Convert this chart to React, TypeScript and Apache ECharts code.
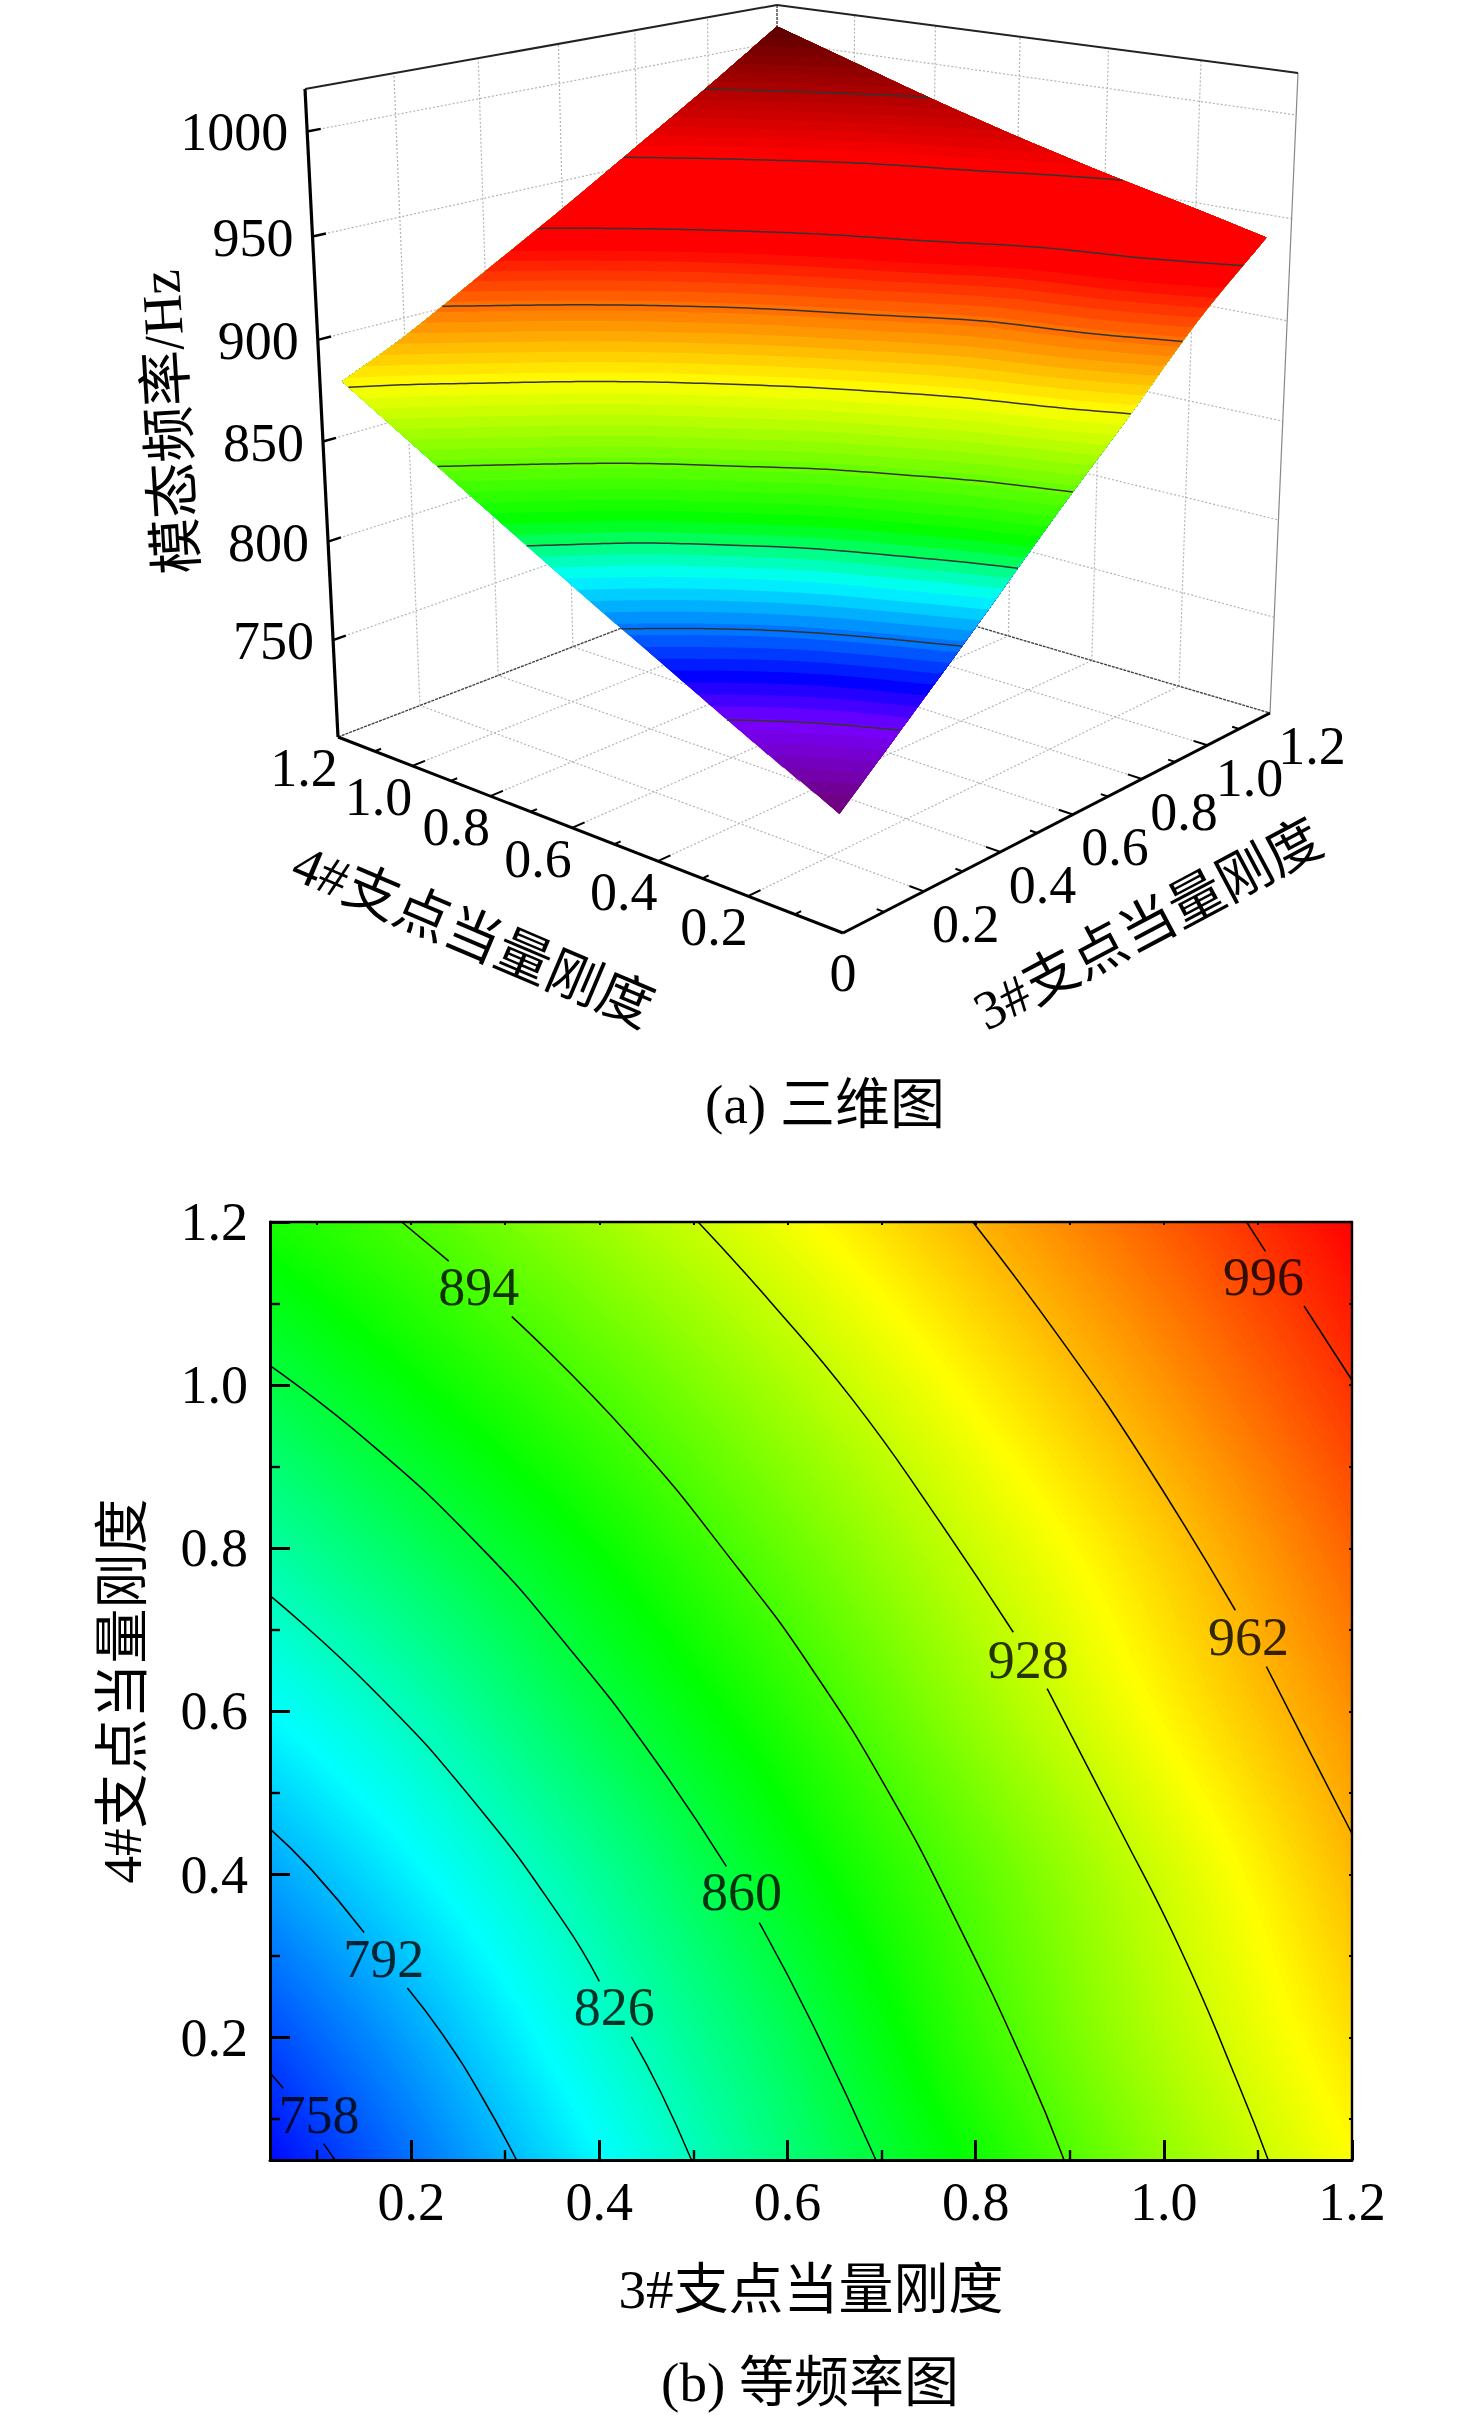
import React, { useEffect, useRef } from "react";
import * as echarts from "echarts";

// ---------- data ----------
const x3Nodes = [0.05, 0.2, 0.4, 0.6, 0.8, 1.0, 1.2];
const x4Nodes = [0.05, 0.2, 0.4, 0.6, 0.8, 1.0, 1.2];
const freqAtX4_005 = [747, 773, 808, 844, 878, 913, 942];
const freqAtX4_02 = [763, 786, 820, 853, 889, 922, 950];
const freqAtX4_04 = [786, 806, 836, 869, 899, 930, 960];
const freqAtX4_06 = [809, 827, 857, 885, 915, 944, 971];
const freqAtX4_08 = [833, 851, 876, 902, 929, 955, 983];
const freqAtX4_10 = [857, 874, 896, 920, 945, 970, 996];
const freqAtX4_12 = [881, 895, 917, 939, 962, 985, 1009];
const freqRows = [freqAtX4_005, freqAtX4_02, freqAtX4_04, freqAtX4_06, freqAtX4_08, freqAtX4_10, freqAtX4_12];

// contour lines of the lower plot, [3# stiffness, 4# stiffness], split where the label sits
const c758a = [[0.05, 0.157], [0.064, 0.138]];
const c758b = [[0.107, 0.07], [0.119, 0.05]];
const c792a = [[0.05, 0.456], [0.094, 0.406], [0.15, 0.329]];
const c792b = [[0.196, 0.261], [0.234, 0.203], [0.274, 0.13], [0.312, 0.05]];
const c826a = [[0.05, 0.742], [0.16, 0.626], [0.27, 0.485], [0.362, 0.342], [0.4, 0.269]];
const c826b = [[0.434, 0.201], [0.465, 0.134], [0.498, 0.05]];
const c860a = [[0.05, 1.024], [0.153, 0.932], [0.27, 0.806], [0.369, 0.676], [0.454, 0.549], [0.535, 0.41]];
const c860b = [[0.57, 0.341], [0.626, 0.218], [0.694, 0.05]];
const c894a = [[0.19, 1.2], [0.24, 1.152]];
const c894b = [[0.307, 1.084], [0.432, 0.938], [0.549, 0.773], [0.626, 0.652], [0.707, 0.502], [0.78, 0.342], [0.854, 0.162], [0.894, 0.05]];
const c928a = [[0.505, 1.2], [0.582, 1.102], [0.67, 0.981], [0.755, 0.844], [0.84, 0.697]];
const c928b = [[0.876, 0.628], [0.949, 0.465], [1.019, 0.305], [1.081, 0.138], [1.111, 0.05]];
const c962a = [[0.797, 1.2], [0.89, 1.057], [0.975, 0.914], [1.076, 0.724]];
const c962b = [[1.109, 0.655], [1.155, 0.551], [1.2, 0.45]];
const c996a = [[1.088, 1.2], [1.108, 1.164]];
const c996b = [[1.149, 1.097], [1.2, 1.006]];
const contourSegments = [c758a, c758b, c792a, c792b, c826a, c826b, c860a, c860b, c894a, c894b, c928a, c928b, c962a, c962b, c996a, c996b];
const contourLabels = [
  [0.102, 0.105, 758], [0.171, 0.297, 792], [0.416, 0.237, 826], [0.551, 0.378, 860],
  [0.272, 1.12, 894], [0.856, 0.663, 928], [1.09, 0.691, 962], [1.106, 1.133, 996],
];

// tick values
const planMajorTicks = [0.2, 0.4, 0.6, 0.8, 1.0, 1.2];
const planMinorTicks = [0.1, 0.3, 0.5, 0.7, 0.9, 1.1];
const planEdgeTicks = [0.1, 0.2, 0.3, 0.4, 0.5, 0.6, 0.7, 0.8, 0.9, 1.0, 1.1];
const freqTicks = [750, 800, 850, 900, 950, 1000];
const surfaceContourLevels = [773, 800, 826, 852, 879, 905, 932, 958, 984];

// colour ramps: [frequency, hex]
const ramp3d: [number, string][] = [[750, "#700080"], [773, "#7800ff"], [786, "#0000ff"], [816, "#00ffff"], [834, "#00ff00"], [879, "#ffff00"], [925, "#ff0000"], [960, "#ff0000"], [1009, "#5a0000"]];
const ramp2d: [number, string][] = [[745, "#0000ff"], [809, "#00ffff"], [875, "#00ff00"], [942, "#ffff00"], [1009, "#ff0000"]];

// ---------- layout ----------
type P = [number, number];
const FONT = '"Liberation Serif","Noto Sans CJK SC",serif';
const WIDTH = 1476, HEIGHT = 2417;
const GRID = { left: 270, top: 1222, width: 1082, height: 938 };
const F: P = [843, 933], R: P = [1270, 713], B: P = [778, 568], L: P = [338, 737];
const TF: P = [843, 184], TR: P = [1298, 73], TB: P = [777, 5], TL: P = [305, 89];
const Z_MIN = 700, Z_MAX = 1020, PLAN_MAX = 1.2;

// ---------- helpers ----------
function tangents(xs: number[], ys: number[]) {
  const m: number[] = [];
  for (let i = 0; i < xs.length; i++) {
    if (i === 0) m.push((ys[1] - ys[0]) / (xs[1] - xs[0]));
    else if (i === xs.length - 1) m.push((ys[i] - ys[i - 1]) / (xs[i] - xs[i - 1]));
    else m.push((ys[i + 1] - ys[i - 1]) / (xs[i + 1] - xs[i - 1]));
  }
  return m;
}
function hermite(xs: number[], ys: number[], x: number) {
  const m = tangents(xs, ys);
  let i = 0;
  while (i < xs.length - 2 && x > xs[i + 1]) i++;
  const h = xs[i + 1] - xs[i], t = (x - xs[i]) / h, t2 = t * t, t3 = t2 * t;
  return (2 * t3 - 3 * t2 + 1) * ys[i] + (t3 - 2 * t2 + t) * h * m[i] + (-2 * t3 + 3 * t2) * ys[i + 1] + (t3 - t2) * h * m[i + 1];
}
function surface(x: number, y: number) {
  return hermite(x4Nodes, freqRows.map((r) => hermite(x3Nodes, r, x)), y);
}
const X0 = x3Nodes[0], X1 = x3Nodes[x3Nodes.length - 1], Y0 = x4Nodes[0], Y1 = x4Nodes[x4Nodes.length - 1];
const NX = 160, NY = 240;
const sampleX: number[] = [], sampleY: number[] = [];
for (let i = 0; i <= NX; i++) sampleX.push(X0 + ((X1 - X0) * i) / NX);
for (let j = 0; j <= NY; j++) sampleY.push(Y0 + ((Y1 - Y0) * j) / NY);
const columns: number[][] = sampleX.map((x) => {
  const along = freqRows.map((r) => hermite(x3Nodes, r, x));
  return sampleY.map((y) => hermite(x4Nodes, along, y));
});
function crossing(col: number[], level: number) {
  if (col[0] >= level) return Y0;
  let a = 0, b = NY;
  while (b - a > 1) {
    const m = (a + b) >> 1;
    if (col[m] >= level) b = m;
    else a = m;
  }
  return sampleY[a] + ((sampleY[b] - sampleY[a]) * (level - col[a])) / (col[b] - col[a]);
}
// the part of the plan where the frequency is at least `level`
function regionAbove(level: number): P[] {
  const pts: P[] = [];
  let first = -1;
  for (let i = 0; i <= NX; i++) {
    const col = columns[i];
    if (col[NY] < level) continue;
    if (first < 0) {
      first = i;
      if (i > 0) {
        const p = columns[i - 1][NY];
        pts.push([sampleX[i - 1] + ((sampleX[i] - sampleX[i - 1]) * (level - p)) / (col[NY] - p), Y1]);
      }
    }
    pts.push([sampleX[i], crossing(col, level)]);
  }
  if (first < 0) return [];
  const lastY = pts[pts.length - 1][1];
  for (let k = 1; k <= 24; k++) pts.push([X1, lastY + ((Y1 - lastY) * k) / 24]);
  for (let i = NX - 4; i > first; i -= 4) pts.push([sampleX[i], Y1]);
  if (first === 0) pts.push([X0, Y1]);
  return pts;
}
function contourLine(level: number): P[] {
  const pts: P[] = [];
  for (let i = 0; i <= NX; i++) {
    const col = columns[i];
    if (col[NY] < level) {
      const next = columns[i + 1];
      if (next && next[NY] >= level) pts.push([sampleX[i] + ((sampleX[i + 1] - sampleX[i]) * (level - col[NY])) / (next[NY] - col[NY]), Y1]);
      continue;
    }
    if (col[0] > level) {
      const prev = columns[i - 1];
      if (prev && prev[0] <= level) pts.push([sampleX[i - 1] + ((sampleX[i] - sampleX[i - 1]) * (level - prev[0])) / (col[0] - prev[0]), Y0]);
      break;
    }
    pts.push([sampleX[i], crossing(col, level)]);
  }
  return pts;
}
function rgb(hex: string) {
  return [1, 3, 5].map((i) => parseInt(hex.slice(i, i + 2), 16));
}
function rampColor(ramp: [number, string][], v: number) {
  if (v <= ramp[0][0]) return ramp[0][1];
  for (let i = 0; i < ramp.length - 1; i++) {
    if (v <= ramp[i + 1][0]) {
      const t = (v - ramp[i][0]) / (ramp[i + 1][0] - ramp[i][0]);
      const a = rgb(ramp[i][1]), b = rgb(ramp[i + 1][1]);
      return `rgb(${a.map((c, k) => Math.round(c + (b[k] - c) * t)).join(",")})`;
    }
  }
  return ramp[ramp.length - 1][1];
}
function squareToQuad(p00: P, p10: P, p11: P, p01: P) {
  const dx1 = p10[0] - p11[0], dx2 = p01[0] - p11[0], sx = p00[0] - p10[0] + p11[0] - p01[0];
  const dy1 = p10[1] - p11[1], dy2 = p01[1] - p11[1], sy = p00[1] - p10[1] + p11[1] - p01[1];
  const det = dx1 * dy2 - dx2 * dy1;
  const g = (sx * dy2 - dx2 * sy) / det, h = (dx1 * sy - sx * dy1) / det;
  const a = p10[0] - p00[0] + g * p10[0], b = p01[0] - p00[0] + h * p01[0], c = p00[0];
  const d = p10[1] - p00[1] + g * p10[1], e = p01[1] - p00[1] + h * p01[1], f = p00[1];
  return (u: number, v: number): P => {
    const w = g * u + h * v + 1;
    return [(a * u + b * v + c) / w, (d * u + e * v + f) / w];
  };
}
const floorMap = squareToQuad(F, R, B, L);
const topMap = squareToQuad(TF, TR, TB, TL);
function project(x3: number, x4: number, z: number, k = 0.95): P {
  const p0 = floorMap(x3 / PLAN_MAX, x4 / PLAN_MAX), p1 = topMap(x3 / PLAN_MAX, x4 / PLAN_MAX);
  const w = (z - Z_MIN) / (Z_MAX - Z_MIN), t = (k * w) / (1 - w + k * w);
  return [p0[0] + (p1[0] - p0[0]) * t, p0[1] + (p1[1] - p0[1]) * t];
}
const SURFACE_K = 0.9;
const seg = (a: P, b: P, stroke: string, lineWidth: number, lineDash?: number[]) => ({
  type: "line",
  shape: { x1: a[0], y1: a[1], x2: b[0], y2: b[1] },
  style: { stroke, lineWidth, lineDash, fill: null },
  silent: true,
});
const txt = (text: string, x: number, y: number, align = "center", size = 54) => ({
  type: "text",
  silent: true,
  style: { text, x, y, fill: "#000", font: `${size}px ${FONT}`, align, verticalAlign: "middle" },
});

const GRID_STROKE = "#b4b4b4";
const GRID_DASH = [2, 2];
const fmtTick = (v: number) => v.toFixed(1);

function wallsAndFloor() {
  const out: any[] = [];
  const lines3 = (a: number[], b: number[]) => seg(project(a[0], a[1], a[2]), project(b[0], b[1], b[2]), GRID_STROKE, 1.2, GRID_DASH);
  for (const t of planMajorTicks) {
    if (t < PLAN_MAX) {
      out.push(lines3([t, 0, Z_MIN], [t, PLAN_MAX, Z_MIN]));
      out.push(lines3([0, t, Z_MIN], [PLAN_MAX, t, Z_MIN]));
      out.push(lines3([t, PLAN_MAX, Z_MIN], [t, PLAN_MAX, Z_MAX]));
      out.push(lines3([PLAN_MAX, t, Z_MIN], [PLAN_MAX, t, Z_MAX]));
    }
  }
  for (const z of freqTicks) {
    out.push(lines3([0, PLAN_MAX, z], [PLAN_MAX, PLAN_MAX, z]));
    out.push(lines3([PLAN_MAX, PLAN_MAX, z], [PLAN_MAX, 0, z]));
  }
  out.push(seg(L, B, "#444", 1.4, [3, 1]));
  out.push(seg(B, R, "#444", 1.4, [3, 1]));
  out.push(seg(B, TB, "#444", 1.4, [3, 1]));
  out.push(seg(R, TR, "#888", 1.2));
  out.push(seg(TL, TB, "#222", 2));
  out.push(seg(TB, TR, "#222", 2));
  return out;
}
function axes3d() {
  const out: any[] = [];
  out.push(seg(L, TL, "#000", 3.2));
  out.push(seg(F, L, "#000", 3));
  out.push(seg(F, R, "#000", 3));
  for (const t of planEdgeTicks.concat([1.2])) {
    const major = planMajorTicks.includes(t);
    const d = major ? 0.03 : 0.015;
    if (t < PLAN_MAX) {
      out.push(seg(project(0, t, Z_MIN), project(d, t, Z_MIN), "#000", 2));
      out.push(seg(project(t, 0, Z_MIN), project(t, d, Z_MIN), "#000", 2));
    }
    if (major) {
      const a = project(0, t, Z_MIN), b = project(t, 0, Z_MIN);
      out.push(txt(fmtTick(t), a[0] - 34, a[1] + 31));
      out.push(txt(fmtTick(t), b[0] + 42, b[1] + 33));
    }
  }
  out.push(txt("0", F[0], F[1] + 40));
  for (const z of freqTicks) {
    const a = project(0, PLAN_MAX, z);
    out.push(seg(a, project(0.03, PLAN_MAX, z), "#000", 2.4));
    out.push(txt(String(z), a[0] - 19, a[1] + 1, "right"));
  }
  return out;
}

const bands2d: number[][] = [];
for (let v = 745; v < 1010; v += 1) bands2d.push([v]);
const bands3d: number[][] = [];
for (let v = 735; v < 1010; v += 3.5) bands3d.push([v]);

function buildOption() {
  const common = { type: "value", min: 0.05, max: 1.2, splitLine: { show: false }, z: 10 };
  const line = { show: true, onZero: false, lineStyle: { color: "#000", width: 3 } };
  const edge = { show: true, onZero: false, lineStyle: { color: "#000", width: 2.4 } };
  const label = { fontSize: 54, fontFamily: FONT, color: "#000", formatter: fmtTick, customValues: planMajorTicks };
  const capt = (text: string, x: number, y: number, size: number, deg = 0) => ({
    type: "text", silent: true, x, y, rotation: (deg * Math.PI) / 180,
    style: { text, x: 0, y: 0, font: `${size}px ${FONT}`, fill: "#000", align: "center", verticalAlign: "middle" },
  });
  return {
    animation: false,
    backgroundColor: "#fff",
    grid: { left: GRID.left, top: GRID.top, width: GRID.width, height: GRID.height, containLabel: false },
    xAxis: [
      {
        ...common, position: "bottom", axisLine: line,
        axisTick: { inside: true, length: 20, lineStyle: { color: "#000", width: 3 }, customValues: planMajorTicks },
        axisLabel: { ...label, margin: 15 },
        name: "3#支点当量刚度", nameLocation: "middle", nameGap: 102,
        nameTextStyle: { fontSize: 55, fontFamily: FONT, color: "#000" },
      },
      { ...common, position: "bottom", axisLine: { show: false }, axisLabel: { show: false }, axisTick: { inside: true, length: 10, lineStyle: { color: "#000", width: 2.4 }, customValues: planMinorTicks } },
      { ...common, position: "top", axisLine: edge, axisLabel: { show: false }, axisTick: { inside: true, length: 3, lineStyle: { color: "#000", width: 2 }, customValues: planEdgeTicks } },
    ],
    yAxis: [
      {
        ...common, position: "left", axisLine: line,
        axisTick: { inside: true, length: 20, lineStyle: { color: "#000", width: 3 }, customValues: planMajorTicks },
        axisLabel: { ...label, margin: 22 },
        name: "4#支点当量刚度", nameLocation: "middle", nameGap: 120,
        nameTextStyle: { fontSize: 55, fontFamily: FONT, color: "#000" },
      },
      { ...common, position: "left", axisLine: { show: false }, axisLabel: { show: false }, axisTick: { inside: true, length: 10, lineStyle: { color: "#000", width: 2.4 }, customValues: planMinorTicks } },
      { ...common, position: "right", axisLine: edge, axisLabel: { show: false }, axisTick: { inside: true, length: 3, lineStyle: { color: "#000", width: 2 }, customValues: planEdgeTicks } },
    ],
    graphic: [
      capt("(a) 三维图", 825, 1104, 55),
      capt("(b) 等频率图", 810, 2382, 55),
      capt("模态频率/Hz", 169, 422, 56, 93.5),
      capt("4#支点当量刚度", 473, 936, 55, -23),
      capt("3#支点当量刚度", 1148, 925, 55, 28),
    ],
    series: [
      // lower plot: colour field
      {
        type: "custom", coordinateSystem: "cartesian2d", z: 2, silent: true, data: bands2d, encode: { x: 0, y: 0 }, clip: false,
        renderItem: (_p: any, api: any) => {
          const level = api.value(0);
          const pts = regionAbove(level);
          if (!pts.length) return null;
          return { type: "polygon", silent: true, shape: { points: pts.map((q) => api.coord(q)) }, style: { fill: rampColor(ramp2d, level + 0.5) } };
        },
      },
      ...contourSegments.map((d) => ({
        type: "line", data: d, z: 5, smooth: 0.5, showSymbol: false, silent: true,
        lineStyle: { color: "#000", width: 1.5 },
      })),
      {
        type: "scatter", z: 6, symbolSize: 1, silent: true, data: contourLabels,
        itemStyle: { color: "rgba(0,0,0,0)" },
        label: { show: true, position: "inside", fontSize: 54, fontFamily: FONT, color: "#000", formatter: (p: any) => String(p.value[2]) },
      },
      // upper plot: box, surface, contours, axes
      {
        type: "custom", coordinateSystem: "none", z: 1, silent: true, data: [[0]],
        renderItem: () => ({ type: "group", children: wallsAndFloor() }),
      },
      {
        type: "custom", coordinateSystem: "none", z: 2, silent: true, data: bands3d,
        renderItem: (_p: any, api: any) => {
          const level = api.value(0);
          const pts = regionAbove(level);
          if (!pts.length) return null;
          return { type: "polygon", silent: true, shape: { points: pts.map((q) => project(q[0], q[1], surface(q[0], q[1]), SURFACE_K)) }, style: { fill: rampColor(ramp3d, level + 1.75) } };
        },
      },
      {
        type: "custom", coordinateSystem: "none", z: 3, silent: true, data: surfaceContourLevels.map((v) => [v]),
        renderItem: (_p: any, api: any) => {
          const pts = contourLine(api.value(0));
          return { type: "polyline", silent: true, shape: { points: pts.map((q) => project(q[0], q[1], surface(q[0], q[1]), SURFACE_K)) }, style: { stroke: "#333", lineWidth: 1.5, fill: null } };
        },
      },
      {
        type: "custom", coordinateSystem: "none", z: 4, silent: true, data: [[0]],
        renderItem: () => ({ type: "group", children: axes3d() }),
      },
    ],
  };
}

export default function App() {
  const ref = useRef<HTMLDivElement>(null);
  useEffect(() => {
    const chart = echarts.init(ref.current!, undefined, { renderer: "svg" });
    chart.setOption(buildOption() as any);
    return () => chart.dispose();
  }, []);
  return <div ref={ref} style={{ position: "absolute", left: 0, top: 0, width: WIDTH, height: HEIGHT }} />;
}
